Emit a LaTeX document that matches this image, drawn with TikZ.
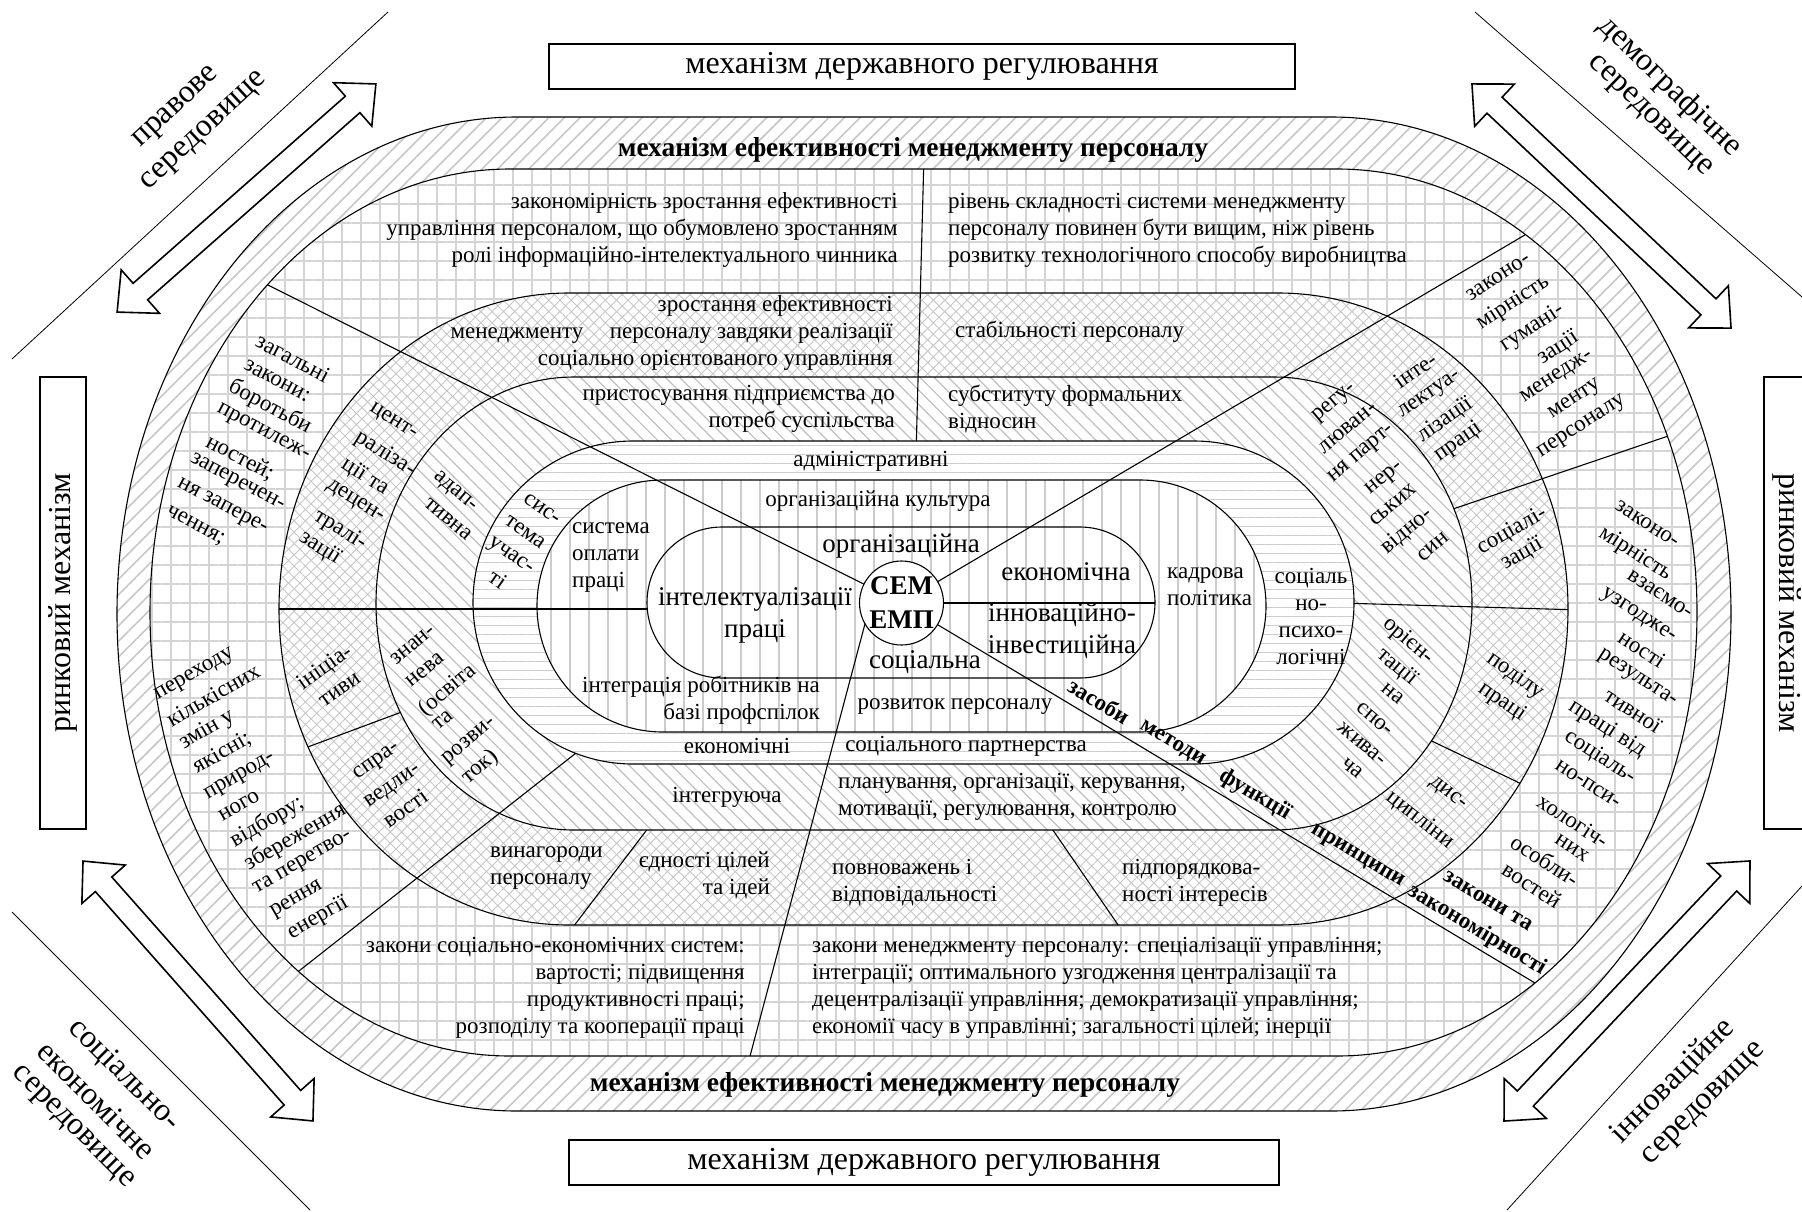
\documentclass[tikz,border=0pt]{standalone}
\usepackage{fontspec}
\setmainfont{Liberation Serif}
\usetikzlibrary{patterns.meta}

% stadium outline: left x, top y, right x, bottom y, horizontal end radius
\newcommand\stad[5]{(#1+#5,#2) -- (#3-#5,#2) arc[start angle=90,end angle=-90,x radius=#5pt,y radius={(#4-#2)/2*1pt}] -- (#1+#5,#4) arc[start angle=270,end angle=90,x radius=#5pt,y radius={(#4-#2)/2*1pt}] -- cycle}
\newcommand\StadA{\stad{117}{117}{1731}{1111}{400}}
\newcommand\StadB{\stad{150}{169}{1697}{1056}{360}}
\newcommand\StadC{\stad{279}{293}{1568}{925}{290}}
\newcommand\StadD{\stad{376}{377}{1472}{830}{198}}
\newcommand\StadE{\stad{473}{441}{1354}{764}{160}}
\newcommand\StadF{\stad{537}{480}{1266}{732}{126}}
\newcommand\StadG{\stad{647}{527}{1155}{678}{75}}
\newcommand\Cir{(901.5,603) circle[radius=42pt]}

% hollow double block arrow: centre x, centre y, angle, length
\newcommand\dblarrow[4]{%
\begin{scope}[shift={(#1,#2)},rotate=#3]
\draw[blockarrow] (-#4/2,0) -- (-#4/2+31,29) -- (-#4/2+31,11) -- (#4/2-31,11) -- (#4/2-31,29) -- (#4/2,0) -- (#4/2-31,-29) -- (#4/2-31,-11) -- (-#4/2+31,-11) -- (-#4/2+31,-29) -- cycle;
\end{scope}}

\begin{document}
\begin{tikzpicture}[x=1pt,y=-1pt,
  pdiag/.style={pattern={Lines[angle=45,distance=11pt,line width=1.6pt]},pattern color=black!22},
  pgrid/.style={pattern={Hatch[angle=0,distance=19pt,line width=2.6pt]},pattern color=black!17},
  pcross/.style={pattern={Hatch[angle=45,distance=8pt,line width=0.9pt]},pattern color=black!22},
  pback/.style={pattern={Lines[angle=-45,distance=10pt,line width=1.2pt]},pattern color=black!25},
  phor/.style={pattern={Lines[angle=0,distance=9pt,line width=1pt]},pattern color=black!20},
  pver/.style={pattern={Lines[angle=90,distance=19pt,line width=1.4pt]},pattern color=black!20},
  ol/.style={line width=1.1pt},
  ln/.style={line width=1.1pt},
  blockarrow/.style={line width=1.6pt,fill=white,line join=miter},
  boxed/.style={draw,line width=1.3pt,inner sep=0pt,font=\fontsize{32}{38}\selectfont},
  t/.style={font=\fontsize{23}{27}\selectfont,inner sep=0pt},
  tr/.style={t,rotate=#1},
  big/.style={font=\fontsize{27}{32}\selectfont,inner sep=0pt},
  lab/.style={font=\fontsize{27.4}{31}\selectfont\bfseries,inner sep=0pt},
  lbr/.style={font=\fontsize{23}{27}\selectfont\bfseries,inner sep=0pt,rotate=#1},
  env/.style={font=\fontsize{32}{38}\selectfont,inner sep=0pt,rotate=#1}]
\useasboundingbox (0,0) rectangle (1802,1211);

% hatched bands
\fill[pdiag,even odd rule] \StadA \StadB;
\fill[pgrid,even odd rule] \StadB \StadC;
\fill[pcross,even odd rule] \StadC \StadD;
\fill[pback,even odd rule] \StadD \StadE;
\fill[phor,even odd rule] \StadE \StadF;
\fill[pver] \StadF;
\fill[white] \Cir;

% dividers running out of the centre
\begin{scope}[even odd rule]
\clip \StadB \Cir;
\draw[ln] (901.5,603) -- (250,276);
\draw[ln] (901.5,603) -- (1540,226);
\draw[ln] (870,605) -- (745,1075);
\draw[ln] (901.5,603) -- (1550,992);
\end{scope}
\begin{scope}[even odd rule]
\clip \StadG \Cir;
\draw[ln] (901.5,603) -- (1170,603);
\end{scope}
\begin{scope}[even odd rule]
\clip \StadB \StadE;
\draw[ln] (916,455) -- (924,155);
\draw[ln] (590,742) -- (290,978);
\end{scope}
\begin{scope}[even odd rule]
\clip \StadB \StadD;
\draw[ln] (1440,513.4) -- (1680,432);
\end{scope}
\begin{scope}[even odd rule]
\clip \StadC \StadG;
\draw[ln] (265,609) -- (660,609);
\end{scope}
\begin{scope}[even odd rule]
\clip \StadC \StadE;
\draw[ln] (1340,603) -- (1582,610);
\end{scope}
\begin{scope}[even odd rule]
\clip \StadC \StadD;
\draw[ln] (1415,733) -- (1530,788);
\draw[ln] (415,707) -- (297,751);
\draw[ln] (655,819) -- (567,935);
\draw[ln] (1046,820) -- (1125,935);
\end{scope}

% outlines
\draw[ol] \StadA;
\draw[ol] \StadB;
\draw[ol] \StadC;
\draw[ol] \StadD;
\draw[ol] \StadE;
\draw[ol] \StadF;
\draw[ol] \StadG;
\draw[ol] \Cir;

% outer boxes
\node[boxed,minimum width=746pt,minimum height=45pt] (boxT) at (922,66.5) {механізм державного регулювання};
\node[boxed,minimum width=710pt,minimum height=45pt] (boxB) at (924,1162.5) {механізм державного регулювання};
\node[boxed,minimum width=452pt,minimum height=46pt,rotate=90] (boxL) at (63,603) {ринковий механізм};
\node[boxed,minimum width=452pt,minimum height=46pt,rotate=-90] (boxR) at (1787,603) {ринковий механізм};

% environment lines and arrows
\draw[line width=0.8pt] (12,359) -- (388,12);
\draw[line width=0.8pt] (1475,12) -- (1802,297);
\draw[line width=0.8pt] (12,912) -- (310,1210);
\draw[line width=0.8pt] (1507,1210) -- (1802,886);
\dblarrow{246.5}{198}{41.4}{345}
\dblarrow{1601.5}{206}{-43.3}{356}
\dblarrow{198}{991}{-48.5}{347}
\dblarrow{1627}{991}{46.6}{358}
\node[env=43] (e1) at (177,108) {правове};
\node[env=43] (e2) at (205,132) {середовище};
\node[env=-44] (e3) at (1670,87) {демографічне};
\node[env=-44] (e4) at (1649,117) {середовище};
\node[env=-45] (e5) at (124,1075) {соціально-};
\node[env=-45] (e6) at (97,1100) {економічне};
\node[env=-45] (e7) at (72,1128) {середовище};
\node[env=45] (e8) at (1673,1081) {інноваційне};
\node[env=45] (e9) at (1705,1105) {середовище};

% outer band
\node[lab] (mT) at (913,150) {механізм ефективності менеджменту персоналу};
\node[lab] (mB) at (885,1085) {механізм ефективності менеджменту персоналу};

% grid band
\node[t,anchor=east,align=right] (zak1) at (898,230) {закономірність зростання ефективності\\управління персоналом, що обумовлено зростанням\\ролі інформаційно-інтелектуального чинника};
\node[t,anchor=west,align=left] (riv) at (948,230) {рівень складності системи менеджменту\\персоналу повинен бути вищим, ніж рівень\\розвитку технологічного способу виробництва};
\node[t,anchor=east,align=right] (zse) at (745,988) {закони соціально-економічних систем:\\вартості; підвищення\\продуктивності праці;\\розподілу та кооперації праці};
\node[t,anchor=west,align=left] (zmp) at (812,988) {закони менеджменту персоналу: спеціалізації управління;\\інтеграції; оптимального узгодження централізації та\\децентралізації управління; демократизації управління;\\економії часу в управлінні; загальності цілей; інерції};
\node[tr=-28] (gz1) at (293,358) {загальні};
\node[tr=-28] (gz2) at (277,381) {закони:};
\node[tr=-28] (gz3) at (270,407) {боротьби};
\node[tr=-28] (gz4) at (263,433) {протилеж-};
\node[tr=-28] (gz5) at (240,458) {ностей;};
\node[tr=-28] (gz6) at (237,483) {заперечен-};
\node[tr=-28] (gz7) at (222,507) {ня запере-};
\node[tr=-28] (gz8) at (195,526) {чення;};
\node[tr=30] (gp1) at (195,675) {переходу};
\node[tr=30] (gp2) at (213,695) {кількісних};
\node[tr=30] (gp3) at (207,730) {змін у};
\node[tr=30] (gp4) at (222,753) {якісні;};
\node[tr=30] (gp5) at (240,777) {природ-};
\node[tr=30] (gp6) at (239,806) {ного};
\node[tr=30] (gp7) at (267,822) {відбору;};
\node[tr=30] (gp8) at (295,837) {збереження};
\node[tr=30] (gp9) at (303,863) {та перетво-};
\node[tr=30] (gp10) at (297,900) {рення};
\node[tr=30] (gp11) at (318,918) {енергії};
\node[tr=33] (gh1) at (1498,277) {законо-};
\node[tr=33] (gh2) at (1513,303) {мірність};
\node[tr=33] (gh3) at (1532,328) {гумані-};
\node[tr=33] (gh4) at (1558,348) {зації};
\node[tr=33] (gh5) at (1557,377) {менедж-};
\node[tr=33] (gh6) at (1575,400) {менту};
\node[tr=33] (gh7) at (1582,427) {персоналу};
\node[tr=-33] (gw1) at (1647,524) {законо-};
\node[tr=-33] (gw2) at (1635,554) {мірність};
\node[tr=-33] (gw3) at (1660,594) {взаємо-};
\node[tr=-33] (gw4) at (1638,616) {узгодже-};
\node[tr=-33] (gw5) at (1642,649) {ності};
\node[tr=-33] (gw6) at (1637,679) {результа-};
\node[tr=-33] (gw7) at (1633,711) {тивної};
\node[tr=-33] (gw8) at (1607,729) {праці від};
\node[tr=-33] (gw9) at (1600,757) {соціаль-};
\node[tr=-33] (gw10) at (1588,784) {но-пси-};
\node[tr=-33] (gw11) at (1573,821) {хологіч-};
\node[tr=-33] (gw12) at (1572,848) {них};
\node[tr=-33] (gw13) at (1545,860) {особли-};
\node[tr=-33] (gw14) at (1532,885) {востей};

% cross-hatched band
\node[t,anchor=east,align=right] (zr) at (893,333) {зростання ефективності\\менеджменту\hspace{0.9em} персоналу завдяки реалізації\\соціально орієнтованого управління};
\node[t,anchor=west] (stab) at (955,332) {стабільності персоналу};
\node[t,anchor=west,align=left] (vyn) at (490,868) {винагороди\\персоналу};
\node[t,anchor=east,align=right] (edn) at (770,875.5) {єдності цілей\\та ідей};
\node[t,anchor=west,align=left] (povn) at (832,883) {повноважень і\\відповідальності};
\node[t,anchor=west,align=left] (pidp) at (1122,883) {підпорядкова-\\ності інтересів};
\node[tr=-32] (gc1) at (393,422) {цент-};
\node[tr=-32] (gc2) at (385,454) {раліза-};
\node[tr=-32] (gc3) at (365,477) {ції та};
\node[tr=-32] (gc4) at (355,502) {децен-};
\node[tr=-32] (gc5) at (340,530) {тралі-};
\node[tr=-32] (gc6) at (320,548) {зації};
\node[tr=35] (gi1) at (325,668) {ініціа-};
\node[tr=35] (gi2) at (340,690) {тиви};
\node[tr=35] (gj1) at (377,762) {спра-};
\node[tr=35] (gj2) at (393,787) {ведли-};
\node[tr=35] (gj3) at (405,808) {вості};
\node[tr=35] (gl1) at (1415,370) {інте-};
\node[tr=35] (gl2) at (1430,395) {лектуа-};
\node[tr=35] (gl3) at (1445,420) {лізації};
\node[tr=35] (gl4) at (1458,442) {праці};
\node[tr=30] (gq1) at (1512,531) {соціалі-};
\node[tr=30] (gq2) at (1522,554) {зації};
\node[tr=-35] (gd1) at (1515,676) {поділу};
\node[tr=-35] (gd2) at (1502,702) {праці};
\node[tr=-38] (gx1) at (1448,794) {дис-};
\node[tr=-38] (gx2) at (1420,820) {ципліни};

% back-hatched band
\node[t,anchor=east,align=right] (prist) at (895,409) {пристосування підприємства до\\потреб суспільства};
\node[t,anchor=west,align=left] (subst) at (948,409) {субституту формальних\\відносин};
\node[t] (intgr) at (727,797) {інтегруюча};
\node[t,anchor=west,align=left] (plan) at (838,797) {планування, організації, керування,\\мотивації, регулювання, контролю};
\node[tr=-40] (ga1) at (455,492) {адап-};
\node[tr=-40] (ga2) at (448,519) {тивна};
\node[tr=40] (gk1) at (413,645) {знан-};
\node[tr=40] (gk2) at (425,670) {нева};
\node[tr=40] (gk3) at (448,690) {(освіта};
\node[tr=40] (gk4) at (443,720) {та};
\node[tr=40] (gk5) at (470,742) {розви-};
\node[tr=40] (gk6) at (480,767) {ток)};
\node[tr=40] (gr1) at (1335,403) {регу-};
\node[tr=40] (gr2) at (1348,428) {люван-};
\node[tr=40] (gr3) at (1362,454) {ня парт-};
\node[tr=40] (gr4) at (1385,479) {нер-};
\node[tr=40] (gr5) at (1393,505) {ських};
\node[tr=40] (gr6) at (1407,531) {відно-};
\node[tr=40] (gr7) at (1433,547) {син};
\node[tr=-40] (go1) at (1408,641) {орієн-};
\node[tr=-40] (go2) at (1397,667) {тації};
\node[tr=-40] (go3) at (1393,694) {на};
\node[tr=-40] (go4) at (1375,719) {спо-};
\node[tr=-40] (go5) at (1362,744) {жива-};
\node[tr=-40] (go6) at (1352,768) {ча};

% line-hatched band
\node[t] (adm) at (871,461) {адміністративні};
\node[t] (ekn) at (737,746) {економічні};
\node[t] (socp) at (966,746) {соціального партнерства};
\node[t,align=center] (sp) at (1311,616.5) {соціаль\\но-\\психо-\\логічні};
\node[tr=-35] (gs1) at (542,509) {сис-};
\node[tr=-35] (gs2) at (525,532) {тема};
\node[tr=-35] (gs3) at (510,557) {учас-};
\node[tr=-35] (gs4) at (498,579) {ті};

% culture band
\node[t] (kult) at (878,501) {організаційна культура};
\node[t,anchor=west,align=left] (oplat) at (572,558) {система\\оплати\\праці};
\node[t,anchor=west,align=left] (kadr) at (1167,586.5) {кадрова\\політика};
\node[t] (rozv) at (955,707) {розвиток персоналу};
\node[t,anchor=east,align=right] (integ) at (820,700.5) {інтеграція робітників на\\базі профспілок};

% inner stadium
\node[big] (org) at (901,546) {організаційна};
\node[big,align=center] (intel) at (755,615) {інтелектуалізації\\праці};
\node[big] (econ) at (1066,572) {економічна};
\node[big,align=center] (innov) at (1062,630.5) {інноваційно-\\інвестиційна};
\node[big] (socn) at (925,662) {соціальна};
\node[font=\fontsize{27}{34}\selectfont\bfseries,inner sep=0pt,align=center] (sem) at (901.5,603) {СЕМ\\ЕМП};

% labels along the lower right divider
\node[lbr=-31] (lb1) at (1099,701) {засоби};
\node[lbr=-31] (lb2) at (1172,744) {методи};
\node[lbr=-31] (lb3) at (1255,795) {функції};
\node[lbr=-31] (lb4) at (1357,857) {принципи};
\node[lbr=-31] (lb5) at (1488,901) {закони та};
\node[lbr=-31] (lb6) at (1477,930) {закономірності};
\end{tikzpicture}
\end{document}
